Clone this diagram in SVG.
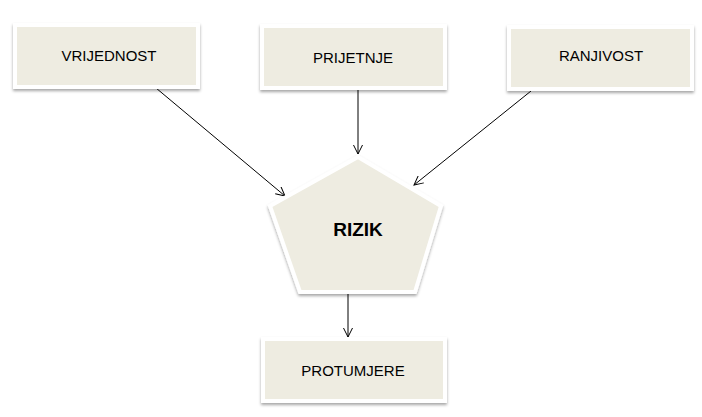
<svg xmlns="http://www.w3.org/2000/svg" width="702" height="417" viewBox="0 0 702 417">
  <defs>
    <filter id="sh" x="-10%" y="-10%" width="120%" height="130%">
      <feDropShadow dx="0" dy="2" stdDeviation="1.5" flood-color="#000" flood-opacity="0.35"/>
    </filter>
    <marker id="arr" viewBox="0 0 10 10" refX="9" refY="5" markerWidth="10" markerHeight="10" markerUnits="userSpaceOnUse" orient="auto">
      <path d="M0,0.5 L9,5 L0,9.5" fill="none" stroke="#000" stroke-width="1"/>
    </marker>
  </defs>
  <style>
    .box { fill: #EEECE1; stroke: #FFFFFF; stroke-width: 4; filter: url(#sh); }
    .lbl { font-family: "Liberation Sans", Arial, sans-serif; font-size: 15px; fill: #000; text-anchor: middle; dominant-baseline: central; }
    .big { font-family: "Liberation Sans", Arial, sans-serif; font-size: 19px; font-weight: bold; fill: #000; text-anchor: middle; dominant-baseline: central; }
    .con { stroke: #000; stroke-width: 1; fill: none; marker-end: url(#arr); }
  </style>
  <rect width="702" height="417" fill="#FFFFFF"/>
  <g id="connectors">
    <line class="con" x1="156" y1="88" x2="285" y2="196"/>
    <line class="con" x1="358" y1="90" x2="358" y2="154"/>
    <line class="con" x1="531" y1="91" x2="414" y2="185"/>
    <line class="con" x1="348" y1="294" x2="348" y2="337"/>
  </g>
  <g id="vrijednost">
    <rect class="box" x="15" y="25" width="183" height="62"/>
    <text class="lbl" x="109" y="55">VRIJEDNOST</text>
  </g>
  <g id="prijetnje">
    <rect class="box" x="262" y="26" width="183" height="62"/>
    <text class="lbl" x="353" y="57">PRIJETNJE</text>
  </g>
  <g id="ranjivost">
    <rect class="box" x="509" y="27" width="183" height="62"/>
    <text class="lbl" x="601" y="55">RANJIVOST</text>
  </g>
  <g id="rizik">
    <polygon class="box" points="358,157 441,206 415,292 300,292 270,206"/>
    <text class="big" x="358" y="229">RIZIK</text>
  </g>
  <g id="protumjere">
    <rect class="box" x="263" y="339" width="182" height="62"/>
    <text class="lbl" x="353" y="370">PROTUMJERE</text>
  </g>
</svg>
